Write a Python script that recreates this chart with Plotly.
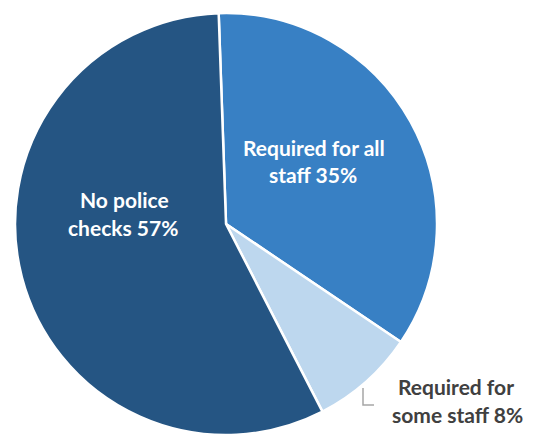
import plotly.graph_objects as go

labels = ["Required for all staff", "Required for some staff", "No police checks"]
values = [35, 8, 57]
colors = ["#3880C4", "#BDD7EE", "#255583"]
label_lines = [["Required for all", "staff {v}%"],
               ["Required for", "some staff {v}%"],
               ["No police", "checks {v}%"]]

W, H = 539, 437
OX, OY = 8, 8  # page body margin offset

fig = go.Figure(go.Pie(
    labels=labels, values=values, sort=False, direction="clockwise",
    rotation=-2, textinfo="none", hoverinfo="label+percent",
    marker=dict(colors=colors, line=dict(color="white", width=2.5)),
    domain=dict(x=[0.013, 0.796], y=[0.0229, 0.9885]),
    showlegend=False,
))

# label centres (screen pixels) and styles
label_pos = [[(314, 147), (313, 174)],
             [(456, 386), (457, 414)],
             [(124, 199), (123, 227)]]
label_col = ["white", "#404040", "white"]

def X(px):
    return (px - OX) / W

def Y(py):
    return 1 - (py - OY) / H

annotations = []
for i, lines in enumerate(label_lines):
    for j, line in enumerate(lines):
        px, py = label_pos[i][j]
        annotations.append(dict(
            x=X(px), y=Y(py), xref="paper", yref="paper",
            text=line.format(v=values[i]), showarrow=False,
            xanchor="center", yanchor="middle",
            font=dict(family="Lato, Carlito, Calibri, sans-serif", size=21,
                      color=label_col[i], weight="bold"),
        ))

def P(px, py):
    return f"{X(px)} {Y(py)}"

fig.update_layout(
    width=W, height=H, margin=dict(l=0, r=0, t=0, b=0),
    paper_bgcolor="white", plot_bgcolor="white",
    annotations=annotations,
    shapes=[dict(type="path", xref="paper", yref="paper",
                 path=f"M {P(363, 388)} L {P(363, 405)} L {P(374, 405)}",
                 line=dict(color="#A6A6A6", width=1.5))],
)

fig.write_html("out.html")
